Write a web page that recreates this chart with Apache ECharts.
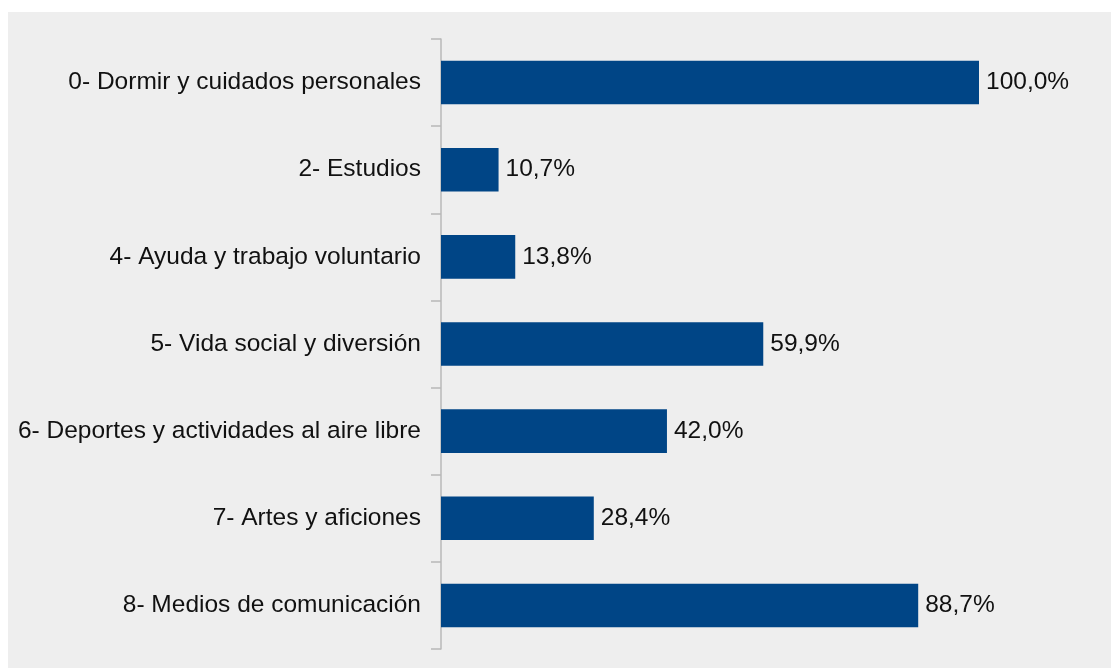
<!DOCTYPE html>
<html>
<head>
<meta charset="utf-8">
<script src="https://cdn.jsdelivr.net/npm/echarts@6/dist/echarts.min.js"></script>
<style>
  html, body { margin: 0; padding: 0; background: #ffffff; }
  #chart { width: 1111px; height: 668px; }
</style>
</head>
<body>
<div id="chart"></div>
<script>
// Share of people doing each activity (%)
const categories = [
  '0- Dormir y cuidados personales',
  '2- Estudios',
  '4- Ayuda y trabajo voluntario',
  '5- Vida social y diversión',
  '6- Deportes y actividades al aire libre',
  '7- Artes y aficiones',
  '8- Medios de comunicación'
];
const values = [100.0, 10.7, 13.8, 59.9, 42.0, 28.4, 88.7];

const fmt = v => v.toFixed(1).replace('.', ',') + '%';

const chart = echarts.init(document.getElementById('chart'), null, { renderer: 'canvas' });
chart.setOption({
  animation: false,
  graphic: [{
    type: 'rect',
    z: -10,
    shape: { x: 8, y: 12, width: 1200, height: 700 },
    style: { fill: '#eeeeee' }
  }],
  grid: { left: 441, right: 132, top: 39, bottom: 19, containLabel: false },
  xAxis: {
    type: 'value',
    min: 0,
    max: 100,
    show: false
  },
  yAxis: {
    type: 'category',
    inverse: true,
    data: categories,
    axisLine: { show: true, lineStyle: { color: '#b8b8b8', width: 1.5 } },
    axisTick: { show: true, length: 10, lineStyle: { color: '#b8b8b8', width: 1.5 } },
    axisLabel: {
      margin: 20,
      color: '#111111',
      fontFamily: 'Liberation Sans, Arial, sans-serif',
      fontSize: 24.5
    },
    splitLine: { show: false }
  },
  series: [{
    type: 'bar',
    data: values,
    barWidth: '50%',
    itemStyle: { color: '#004586' },
    label: {
      show: true,
      position: 'right',
      distance: 7,
      color: '#111111',
      fontFamily: 'Liberation Sans, Arial, sans-serif',
      fontSize: 24.5,
      formatter: p => fmt(p.value)
    }
  }]
});
</script>
</body>
</html>
